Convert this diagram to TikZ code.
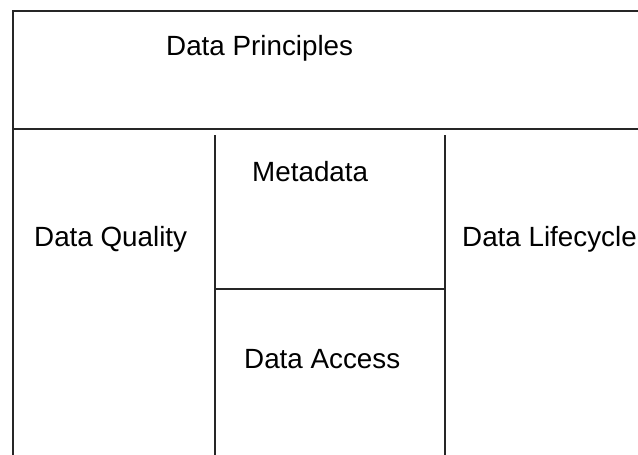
\documentclass[tikz,border=0pt]{standalone}
\usepackage{fontspec}
\setmainfont{Liberation Sans}
\usepackage{tikz}

\begin{document}
\begin{tikzpicture}[x=1pt, y=-1pt,
        label/.style={anchor=base west, inner sep=0pt, font=\fontsize{27.8}{33}\selectfont},
        wall/.style={line width=1.6pt, black!85}]
        \useasboundingbox (0, 0) rectangle (638, 455);

        % frame and dividers
        \draw[wall] (638, 11) -- (13, 11) -- (13, 455);
        \draw[wall] (13, 129) -- (638, 129);
        \draw[wall] (215, 135) -- (215, 455);
        \draw[wall] (445, 135) -- (445, 455);
        \draw[wall] (215, 289) -- (445, 289);

        \node[label] (principles) at (166, 56) {Data Principles};
        \node[label] (quality) at (34, 246) {Data Quality};
        \node[label] (metadata) at (252, 181) {Metadata};
        \node[label] (access) at (244, 368) {Data Access};
        \node[label] (lifecycle) at (462, 246) {Data Lifecycle};
    \end{tikzpicture}
\end{document}
